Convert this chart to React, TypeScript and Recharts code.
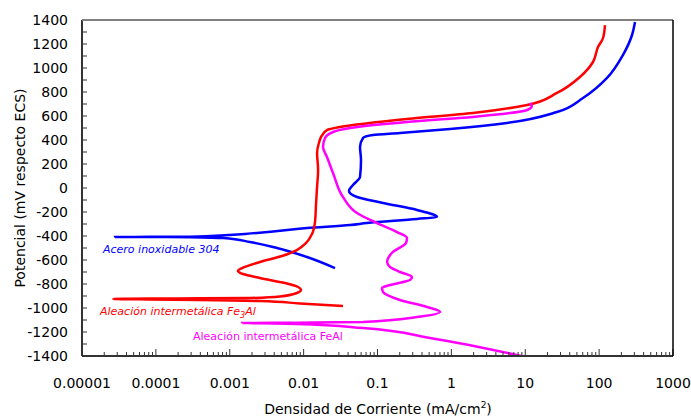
import React from 'react';
import { LineChart, Line, XAxis, YAxis } from 'recharts';

// Current density (mA/cm2) tick values and labels
const xMajorTicks = [0.00001, 0.0001, 0.001, 0.01, 0.1, 1, 10, 100, 1000];
const xTickLabels = ['0.00001', '0.0001', '0.001', '0.01', '0.1', '1', '10', '100', '1000'];
const minorMultipliers = [2, 3, 4, 5, 6, 7, 8, 9];
const xMinorTicks = xMajorTicks.slice(0, -1).flatMap((d) => minorMultipliers.map((m) => d * m));
const xAllTicks = [...xMajorTicks, ...xMinorTicks].sort((a, b) => a - b);

// Potential (mV vs ECS) ticks
const yTicks = [-1400, -1200, -1000, -800, -600, -400, -200, 0, 200, 400, 600, 800, 1000, 1200, 1400];
const yMinorTicks = [
  -1400, -1300, -1200, -1100, -1000, -900, -800, -700, -600, -500, -400, -300, -200, -100, 0,
  100, 200, 300, 400, 500, 600, 700, 800, 900, 1000, 1100, 1200, 1300, 1400,
];

// [current density mA/cm2, potential mV] in scan order (potential increasing)
const acero304: [number, number][] = [
  [0.0266, -667], [0.0111, -575], [0.00436, -500], [0.00188, -450], [0.00081, -417],
  [0.00029, -409.5], [0.000083, -408.7], [0.000028, -408], [0.000083, -407.2], [0.00029, -406],
  [0.00234, -375], [0.0111, -333], [0.0424, -308], [0.0721, -292], [0.343, -258],
  [0.639, -242], [0.343, -183], [0.119, -125], [0.0528, -75], [0.0411, -25],
  [0.0466, 25], [0.058, 92], [0.0598, 233], [0.058, 342], [0.0637, 417],
  [0.0869, 442], [0.202, 458], [0.957, 492], [5.66, 542], [26.9, 633],
  [60.5, 750], [128, 917], [210, 1108], [279, 1275], [306, 1383],
];

const fe3al: [number, number][] = [
  [0.0341, -983], [0.0089, -962], [0.00256, -942], [0.000395, -933], [0.000083, -929],
  [0.0000263, -925], [0.000083, -921], [0.000395, -919.5], [0.00188, -917], [0.00479, -904],
  [0.0081, -875], [0.0092, -850], [0.0084, -825], [0.0056, -792], [0.00256, -750],
  [0.00151, -717], [0.00129, -692], [0.00147, -667], [0.00256, -617], [0.0051, -567],
  [0.0081, -517], [0.0108, -458], [0.013, -383], [0.01426, -283], [0.0147, -142],
  [0.0152, 8], [0.0157, 150], [0.0152, 292], [0.0161, 375], [0.0175, 433],
  [0.0207, 483], [0.0311, 508], [0.251, 575], [1.96, 625], [10.6, 692],
  [26.9, 792], [55, 925], [82.6, 1050], [96.6, 1175], [113, 1250], [120, 1358],
];

const feal: [number, number][] = [
  [8.8, -1400], [0.514, -1250], [0.0637, -1167], [0.0081, -1133], [0.00256, -1128],
  [0.00147, -1125], [0.0081, -1122], [0.0637, -1117], [0.343, -1075], [0.702, -1033],
  [0.468, -992], [0.202, -933], [0.119, -867], [0.115, -833], [0.148, -808],
  [0.275, -767], [0.293, -742], [0.202, -700], [0.148, -658], [0.135, -617],
  [0.162, -533], [0.243, -458], [0.251, -417], [0.184, -367], [0.0984, -292],
  [0.0528, -208], [0.0341, -75], [0.025, 125], [0.0207, 258], [0.0183, 342],
  [0.0195, 417], [0.025, 467], [0.0424, 500], [0.251, 550], [1.96, 592],
  [10.6, 650], [12.3, 683], [11.6, 708],
];

const toRows = (pts: [number, number][]) => pts.map(([i, e]) => ({ i, e }));

const FONT = "'DejaVu Sans', sans-serif";
const X_DOMAIN: [number, number] = [0.00001, 1000];
const Y_DOMAIN: [number, number] = [-1400, 1400];
const CHART_W = 691;
const CHART_H = 419;
const MARGIN = { top: 20, right: 18, bottom: 23, left: 22 };
const Y_AXIS_W = 60;
const X_AXIS_H = 40;
const PLOT_LEFT = MARGIN.left + Y_AXIS_W;
const PLOT_RIGHT = CHART_W - MARGIN.right;
const PLOT_TOP = MARGIN.top;
const PLOT_BOTTOM = CHART_H - MARGIN.bottom - X_AXIS_H;

const majorIndex = (v: number) => xMajorTicks.findIndex((t) => Math.abs(t - v) / t < 1e-6);

const XTick = (props: any) => {
  const { x, y, payload } = props;
  const idx = majorIndex(payload.value);
  const major = idx >= 0;
  return (
    <g>
      <line x1={x} x2={x} y1={y} y2={y - (major ? 7 : 4)} stroke="#333" strokeWidth={1} />
      {major && (
        <text x={x} y={y + 32} textAnchor="middle" fontFamily={FONT} fontSize={14} fill="#000">
          {xTickLabels[idx]}
        </text>
      )}
    </g>
  );
};

const NoLabel = () => <g />;

export default function App() {
  return (
    <div style={{ position: 'absolute', left: 0, top: 0, width: CHART_W, height: CHART_H, background: '#fff' }}>
      <LineChart width={CHART_W} height={CHART_H} margin={MARGIN}>
        <XAxis
          xAxisId="main"
          dataKey="i"
          type="number"
          scale="log"
          domain={X_DOMAIN}
          allowDataOverflow
          ticks={xAllTicks}
          interval={0}
          tickLine={false}
          tickSize={0}
          tickMargin={0}
          height={X_AXIS_H}
          axisLine={{ stroke: '#333', strokeWidth: 2 }}
          tick={XTick}
        />
        <YAxis
          yAxisId="main"
          type="number"
          domain={Y_DOMAIN}
          allowDataOverflow
          ticks={yTicks}
          interval={0}
          width={Y_AXIS_W}
          tickLine={false}
          tickSize={6}
          tickMargin={8}
          axisLine={{ stroke: '#333', strokeWidth: 2 }}
          tick={{ fill: '#000', fontSize: 14, fontFamily: FONT }}
        />
        <YAxis
          yAxisId="ymin"
          type="number"
          domain={Y_DOMAIN}
          allowDataOverflow
          ticks={yMinorTicks}
          interval={0}
          mirror
          tick={NoLabel}
          tickSize={5}
          axisLine={false}
          tickLine={{ stroke: '#333', strokeWidth: 1 }}
        />
        <Line
          xAxisId="main"
          yAxisId="main"
          data={toRows(acero304)}
          dataKey="e"
          type="monotoneY"
          stroke="#0000ff"
          strokeWidth={2.5}
          dot={false}
          activeDot={false}
          isAnimationActive={false}
        />
        <Line
          xAxisId="main"
          yAxisId="main"
          data={toRows(fe3al)}
          dataKey="e"
          type="monotoneY"
          stroke="#ff0000"
          strokeWidth={2.5}
          dot={false}
          activeDot={false}
          isAnimationActive={false}
        />
        <Line
          xAxisId="main"
          yAxisId="main"
          data={toRows(feal)}
          dataKey="e"
          type="monotoneY"
          stroke="#ff00ff"
          strokeWidth={2.5}
          dot={false}
          activeDot={false}
          isAnimationActive={false}
        />
      </LineChart>
      <svg
        width={CHART_W}
        height={CHART_H}
        style={{ position: 'absolute', left: 0, top: 0, pointerEvents: 'none' }}
      >
        <line x1={PLOT_LEFT} x2={PLOT_RIGHT} y1={PLOT_TOP} y2={PLOT_TOP} stroke="#808080" strokeWidth={2} />
        <line x1={PLOT_RIGHT} x2={PLOT_RIGHT} y1={PLOT_TOP} y2={PLOT_BOTTOM} stroke="#000" strokeWidth={1.5} />
        <text
          x={25}
          y={188}
          transform="rotate(-90 25 188)"
          textAnchor="middle"
          fontFamily={FONT}
          fontSize={14}
          fill="#000"
        >
          Potencial (mV respecto ECS)
        </text>
        <text x={378} y={414} textAnchor="middle" fontFamily={FONT} fontSize={14} fill="#000">
          Densidad de Corriente (mA/cm
          <tspan dy={-6} fontSize={9}>2</tspan>
          <tspan dy={6}>)</tspan>
        </text>
        <text x={103} y={253} fontFamily={FONT} fontSize={11} fontStyle="italic" fill="#0000ff">
          Acero inoxidable 304
        </text>
        <text x={100} y={315} fontFamily={FONT} fontSize={11} fontStyle="italic" fill="#ff0000">
          Aleación intermetálica Fe
          <tspan dy={3} fontSize={8}>3</tspan>
          <tspan dy={-3}>Al</tspan>
        </text>
        <text x={193} y={340} fontFamily={FONT} fontSize={11} fill="#ff00ff">
          Aleación intermetálica FeAl
        </text>
      </svg>
    </div>
  );
}
